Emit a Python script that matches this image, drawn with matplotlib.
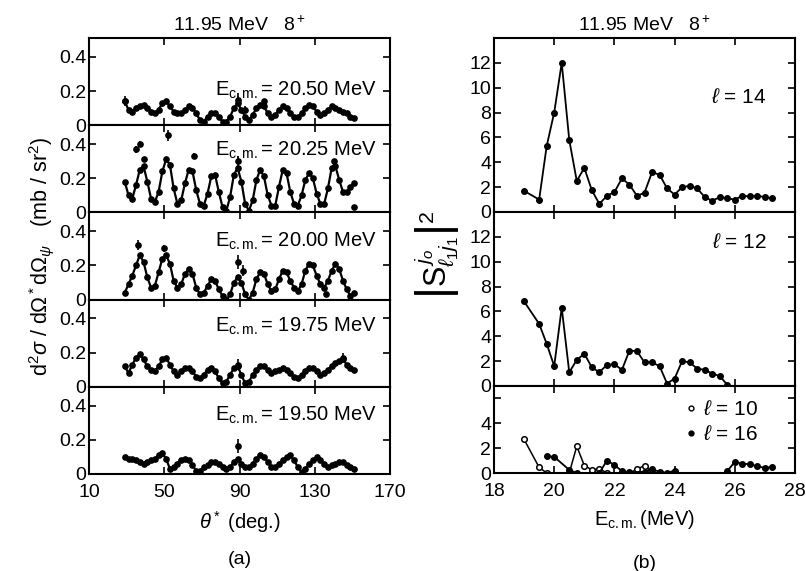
import matplotlib
matplotlib.use("Agg")
import matplotlib.pyplot as plt
import numpy as np
from matplotlib.lines import Line2D

plt.rcParams['font.family'] = ['Liberation Sans', 'DejaVu Sans']
plt.rcParams['mathtext.fontset'] = 'custom'
plt.rcParams['mathtext.rm'] = 'Liberation Sans'
plt.rcParams['mathtext.it'] = 'Liberation Sans:italic'
plt.rcParams['mathtext.bf'] = 'Liberation Sans:bold'
plt.rcParams['xtick.direction'] = 'in'
plt.rcParams['ytick.direction'] = 'in'
plt.rcParams['xtick.top'] = True
plt.rcParams['ytick.right'] = True

# ---- (a) angular distributions ----
theta = [29, 31, 33, 35, 37, 39, 41, 43, 45, 47, 49, 51, 53, 55, 57, 59, 61, 63, 65, 67,
         69, 71, 73, 75, 77, 79, 81, 83, 85, 87, 89, 91, 93, 95, 97, 99, 101, 103, 105, 107,
         109, 111, 113, 115, 117, 119, 121, 123, 125, 127, 129, 131, 133, 135, 137, 139, 141,
         143, 145, 147, 149, 151]

e2050 = [0.14, 0.09, 0.08, 0.10, 0.11, 0.12, 0.10, 0.08, 0.07, 0.09, 0.13, 0.14, 0.11, 0.08,
         0.07, 0.07, 0.09, 0.11, 0.10, 0.07, 0.03, 0.02, 0.05, 0.07, 0.07, 0.05, 0.02, 0.02,
         0.05, 0.10, 0.13, 0.09, 0.05, 0.03, 0.06, 0.10, 0.12, 0.11, 0.07, 0.05, 0.06, 0.09,
         0.11, 0.10, 0.07, 0.05, 0.05, 0.07, 0.10, 0.12, 0.11, 0.08, 0.06, 0.07, 0.09, 0.11,
         0.10, 0.09, 0.08, 0.07, 0.05, 0.04]
e2025 = [0.18, 0.10, 0.08, 0.16, 0.25, 0.27, 0.18, 0.08, 0.06, 0.12, 0.24, 0.31, 0.28, 0.14,
         0.05, 0.07, 0.17, 0.25, 0.24, 0.13, 0.05, 0.04, 0.11, 0.21, 0.22, 0.12, 0.03, 0.01,
         0.09, 0.22, 0.26, 0.18, 0.05, 0.01, 0.07, 0.19, 0.25, 0.21, 0.10, 0.04, 0.04, 0.15,
         0.25, 0.23, 0.12, 0.05, 0.04, 0.10, 0.19, 0.23, 0.20, 0.11, 0.05, 0.05, 0.14, 0.26,
         0.27, 0.19, 0.12, 0.12, 0.15, 0.17]
e2000 = [0.04, 0.09, 0.14, 0.20, 0.26, 0.22, 0.13, 0.07, 0.08, 0.16, 0.24, 0.26, 0.21, 0.11,
         0.07, 0.09, 0.15, 0.18, 0.15, 0.07, 0.03, 0.04, 0.08, 0.12, 0.11, 0.06, 0.02, 0.00,
         0.03, 0.10, 0.13, 0.10, 0.03, 0.00, 0.04, 0.12, 0.16, 0.15, 0.09, 0.05, 0.06, 0.12,
         0.17, 0.16, 0.11, 0.07, 0.05, 0.09, 0.17, 0.21, 0.20, 0.14, 0.09, 0.07, 0.11, 0.17,
         0.21, 0.18, 0.11, 0.06, 0.02, 0.04]
e1975 = [0.12, 0.08, 0.13, 0.17, 0.19, 0.16, 0.12, 0.10, 0.09, 0.12, 0.16, 0.17, 0.13, 0.09,
         0.07, 0.09, 0.11, 0.11, 0.09, 0.06, 0.05, 0.07, 0.10, 0.11, 0.09, 0.05, 0.02, 0.03,
         0.07, 0.11, 0.12, 0.07, 0.02, 0.03, 0.07, 0.10, 0.12, 0.12, 0.10, 0.08, 0.09, 0.10,
         0.11, 0.10, 0.08, 0.06, 0.05, 0.07, 0.09, 0.11, 0.11, 0.09, 0.07, 0.08, 0.10, 0.12,
         0.14, 0.15, 0.16, 0.13, 0.11, 0.10]
e1950 = [0.10, 0.09, 0.09, 0.08, 0.07, 0.06, 0.07, 0.08, 0.09, 0.11, 0.12, 0.09, 0.03, 0.04,
         0.06, 0.08, 0.09, 0.08, 0.05, 0.02, 0.02, 0.04, 0.05, 0.07, 0.07, 0.06, 0.04, 0.03,
         0.04, 0.07, 0.09, 0.06, 0.04, 0.04, 0.06, 0.09, 0.11, 0.10, 0.07, 0.04, 0.04, 0.06,
         0.08, 0.10, 0.11, 0.08, 0.04, 0.01, 0.03, 0.06, 0.08, 0.10, 0.08, 0.06, 0.04, 0.05,
         0.06, 0.07, 0.07, 0.05, 0.04, 0.03]

# points off the curve, with error bars
x2050 = [29, 89, 93, 103]
y2050 = [0.14, 0.15, 0.09, 0.14]
d2050 = [0.03, 0.04, 0.02, 0.01]
x2025 = [35, 37, 39, 52, 66, 89, 140, 151]
y2025 = [0.37, 0.40, 0.31, 0.45, 0.33, 0.30, 0.30, 0.03]
d2025 = [0.02, 0.02, 0.01, 0.03, 0.02, 0.03, 0.01, 0.01]
x2000 = [36, 50, 89, 92, 136]
y2000 = [0.32, 0.30, 0.22, 0.17, 0.03]
d2000 = [0.03, 0.02, 0.04, 0.03, 0.01]
x1975 = [89, 145]
y1975 = [0.13, 0.17]
d1975 = [0.03, 0.03]
x1950 = [89]
y1950 = [0.165]
d1950 = [0.04]

energy_labels = ['20.50', '20.25', '20.00', '19.75', '19.50']

# ---- (b) S-matrix elements ----
E14 = [19.0, 19.5, 19.75, 20.0, 20.25, 20.5, 20.75, 21.0, 21.25, 21.5, 21.75, 22.0, 22.25,
       22.5, 22.75, 23.0, 23.25, 23.5, 23.75, 24.0, 24.25, 24.5, 24.75, 25.0, 25.25, 25.5,
       25.75, 26.0, 26.25, 26.5, 26.75, 27.0, 27.25]
S14 = [1.7, 1.0, 5.3, 8.0, 12.0, 5.8, 2.5, 3.55, 1.75, 0.65, 1.3, 1.6, 2.7, 2.2, 1.3, 1.55,
       3.2, 3.0, 1.9, 1.4, 2.0, 2.1, 1.9, 1.2, 0.9, 1.2, 1.1, 1.0, 1.3, 1.25, 1.3, 1.2, 1.1]
E12 = [19.0, 19.5, 19.75, 20.0, 20.25, 20.5, 20.75, 21.0, 21.25, 21.5, 21.75, 22.0, 22.25,
       22.5, 22.75, 23.0, 23.25, 23.5, 23.75, 24.0, 24.25, 24.5, 24.75, 25.0, 25.25, 25.5,
       25.75]
S12 = [6.8, 5.0, 3.4, 1.6, 6.3, 1.1, 2.1, 2.6, 1.5, 1.1, 1.7, 1.75, 1.3, 2.85, 2.8, 1.9, 1.9,
       1.6, 0.2, 0.6, 2.0, 1.9, 1.4, 1.3, 1.0, 0.8, 0.1]
E10 = [19.0, 19.5, 19.75, 20.5, 20.75, 21.0, 21.25, 21.5, 21.75, 22.5, 22.75, 23.0, 23.25]
S10 = [2.7, 0.45, 0.0, 0.0, 2.15, 0.6, 0.25, 0.35, 0.0, 0.0, 0.3, 0.6, 0.1]
E16 = [19.75, 20.0, 20.5, 20.75, 21.5, 21.75, 22.0, 22.25, 22.5, 23.0, 23.25, 23.5, 23.75,
       24.0, 25.0, 25.75, 26.0, 26.25, 26.5, 26.75, 27.0, 27.25]
S16 = [1.35, 1.3, 0.25, 0.0, 0.0, 1.0, 0.65, 0.15, 0.05, 0.1, 0.3, 0.1, 0.0, 0.2, np.nan,
       0.15, 0.9, 0.75, 0.7, 0.55, 0.4, 0.5]

W, H = 806, 571
fig = plt.figure(figsize=(W / 100, H / 100), dpi=100)

def box(x0, y0, x1, y1):
    return [x0 / W, 1 - y1 / H, (x1 - x0) / W, (y1 - y0) / H]

def style(ax):
    for s in ax.spines.values():
        s.set_linewidth(1.5)
    ax.tick_params(which='major', length=5, width=1.2, labelsize=14)
    ax.tick_params(axis='y', pad=2)
    ax.tick_params(axis='x', pad=7)

# left column
curves = [e2050, e2025, e2000, e1975, e1950]
outl = [(x2050, y2050, d2050), (x2025, y2025, d2025), (x2000, y2000, d2000),
        (x1975, y1975, d1975), (x1950, y1950, d1950)]
lab_y = [0.17, 0.33, 0.31, 0.32, 0.31]
top, bot = 38, 474
ph = (bot - top) / 5
for i in range(5):
    ax = fig.add_axes(box(89, top + i * ph, 390, top + (i + 1) * ph))
    ax.plot(theta, curves[i], '-', color='k', lw=1.6)
    ax.plot(theta, curves[i], 'o', color='k', ms=3.8)
    ox, oy, od = outl[i]
    ax.errorbar(ox, oy, yerr=od, fmt='o', color='k', ms=3.8, elinewidth=1.2, capsize=0,
                clip_on=False)
    ax.set_xlim(10, 170)
    ax.set_ylim(0, 0.51)
    ax.set_xticks([10, 50, 90, 130, 170])
    ax.set_yticks([0, 0.2, 0.4])
    ax.set_yticklabels(['0', '0.2', '0.4'])
    if i < 4:
        ax.tick_params(labelbottom=False)
    style(ax)
    ax.text(163, lab_y[i], r'E$_{\rm c.m.}$= ' + energy_labels[i] + ' MeV',
            ha='right', va='baseline', fontsize=14.5)
    if i == 0:
        ax.set_title(r'11.95 MeV   8$^+$', fontsize=14, pad=5)
    if i == 4:
        ax.set_xlabel(r'$\theta^*$ (deg.)', fontsize=14.5, labelpad=6)

fig.text(0.052, 1 - (top + bot) / 2 / H, r'd$^2\sigma$ / d$\Omega^*$d$\Omega_\psi$   (mb / sr$^2$)',
         rotation=90, ha='center', va='center', fontsize=15.5)
fig.text(239.5 / W, 1 - 560 / H, '(a)', ha='center', va='center', fontsize=14)

# right column
rtop, rbot = 38, 473
unit = (rbot - rtop) / 35.0
edges = [rtop, rtop + 14 * unit, rtop + 28 * unit, rbot]
axs = []
for i in range(3):
    ax = fig.add_axes(box(494, edges[i], 795, edges[i + 1]))
    ax.set_xlim(18, 28)
    ax.set_xticks([18, 20, 22, 24, 26, 28])
    style(ax)
    axs.append(ax)

a1, a2, a3 = axs
a1.plot(E14, S14, '-o', color='k', lw=1.3, ms=4)
a1.set_ylim(0, 14)
a1.set_yticks([0, 2, 4, 6, 8, 10, 12])
a1.tick_params(labelbottom=False)
a1.text(27.05, 8.8, r'$\ell$ = 14', ha='right', va='baseline', fontsize=15)
a1.set_title(r'11.95 MeV   8$^+$', fontsize=14, pad=5)

a2.plot(E12, S12, '-o', color='k', lw=1.3, ms=4)
a2.set_ylim(0, 14)
a2.set_yticks([0, 2, 4, 6, 8, 10, 12])
a2.tick_params(labelbottom=False)
a2.text(27.05, 11.1, r'$\ell$ = 12', ha='right', va='baseline', fontsize=15)

a3.plot(E10, S10, '-o', color='k', lw=1.1, ms=4, mfc='white', mew=1.1)
a3.plot(E16, S16, '-o', color='k', lw=1.3, ms=4)
a3.set_ylim(0, 7)
a3.set_yticks([0, 2, 4, 6])
a3.set_yticklabels(['0', '2', '4', ''])
a3.set_xlabel(r'E$_{\rm c.m.}$(MeV)', fontsize=14.5, labelpad=6)
h10 = Line2D([], [], ls='none', marker='o', ms=3.5, color='k', mfc='white', mew=1)
h16 = Line2D([], [], ls='none', marker='o', ms=3.5, color='k')
a3.legend([h10, h16], [r'$\ell$ = 10', r'$\ell$ = 16'], loc='upper right', frameon=False,
          fontsize=15, handlelength=0.6, handletextpad=0.3, labelspacing=0.3,
          borderaxespad=0.2, bbox_to_anchor=(0.92, 0.98))

fig.text(437 / W, 1 - 255 / H, r'$\left|\mathrm{S}^{\,j_o}_{\ell_1 j_1}\right|^2$', rotation=90,
         ha='center', va='center', fontsize=22)
fig.text(644.5 / W, 1 - 563 / H, '(b)', ha='center', va='center', fontsize=14)

fig.savefig('out.png', dpi=100)
